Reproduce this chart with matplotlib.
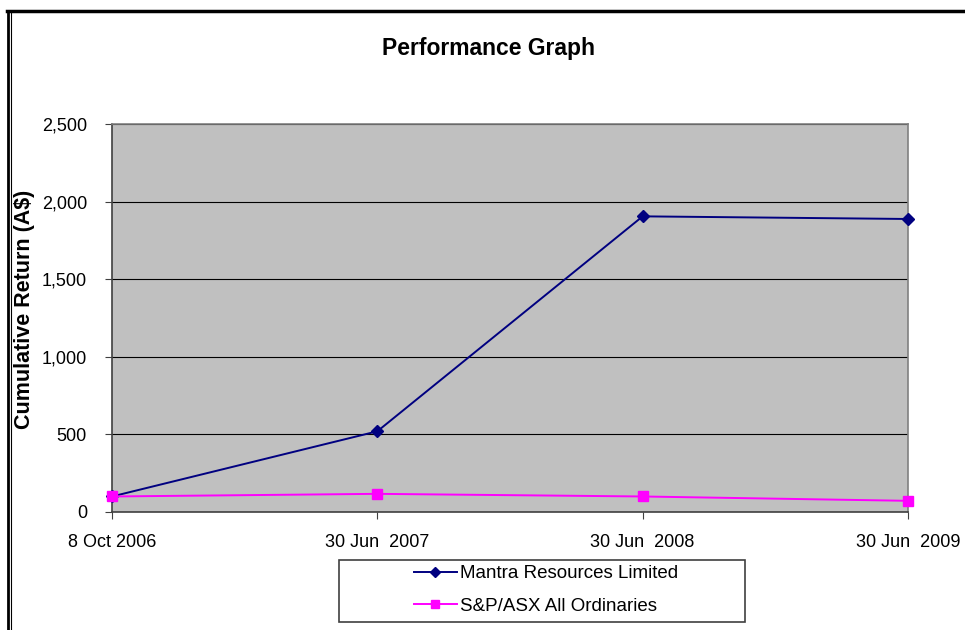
import matplotlib.pyplot as plt
from matplotlib.patches import Rectangle
from matplotlib.lines import Line2D

# datos
fechas = ['8 Oct 2006', '30 Jun  2007', '30 Jun  2008', '30 Jun  2009']
mantra = [100, 520, 1905, 1888]
asx = [100, 117, 100, 72]
y_ticks = [0, 500, 1000, 1500, 2000, 2500]
y_labels = ['0', '500', '1,000', '1,500', '2,000', '2,500']

plt.rcParams['font.family'] = ['Liberation Sans', 'DejaVu Sans']

fig = plt.figure(figsize=(9.65, 6.3), dpi=100)
ax = fig.add_axes([112 / 965, 1 - 512 / 630, 796 / 965, 388 / 630])
ax.set_facecolor('#c0c0c0')

x = range(len(fechas))
ax.plot(x, mantra, color='#000080', marker='D', markersize=6, lw=1.4,
        label='Mantra Resources Limited', zorder=3, clip_on=False)
ax.plot(x, asx, color='#ff00ff', marker='s', markersize=7.5, lw=1.4,
        label='S&P/ASX All Ordinaries', zorder=3, clip_on=False)

ax.set_xlim(0, len(fechas) - 1)
ax.set_ylim(0, 2500)
ax.set_xticks(list(x))
ax.set_xticklabels(fechas, fontsize=13)
ax.set_yticks(y_ticks)
ax.set_yticklabels(y_labels, fontsize=13)
ax.grid(axis='y', color='black', lw=0.8)
ax.set_axisbelow(True)
ax.tick_params(axis='both', direction='out', length=5, color='#404040')
ax.tick_params(axis='x', pad=11)
ax.tick_params(axis='y', pad=13)

for lado in ['left', 'bottom']:
    ax.spines[lado].set_color('#404040')
    ax.spines[lado].set_linewidth(1.2)
for lado in ['right', 'top']:
    ax.spines[lado].set_color('#808080')
    ax.spines[lado].set_linewidth(1.2)

fig.text(25 / 965, 1 - 309 / 630, 'Cumulative Return (A$)', fontsize=15.5,
         fontweight='bold', rotation=90, ha='center', va='center')
fig.text(489 / 965, 1 - 48 / 630, 'Performance Graph', fontsize=16.5,
         fontweight='bold', ha='center', va='center')

# caja de la leyenda
fig.patches.append(Rectangle((339 / 965, 1 - 622 / 630), 406 / 965, 62 / 630,
                             transform=fig.transFigure, fill=False,
                             edgecolor='#404040', lw=1.2))
leg = fig.legend(loc='center', bbox_to_anchor=(546 / 965, 1 - 590 / 630),
                 frameon=False, fontsize=13.5, handlelength=2.3, labelspacing=0.8,
                 handletextpad=0.2, borderpad=0, markerscale=0.8)

# borde de la figura (arriba e izquierda doble)
fig.add_artist(Line2D([7 / 965, 1], [1 - 11 / 630, 1 - 11 / 630],
                      transform=fig.transFigure, color='black', lw=2.5))
fig.add_artist(Line2D([8 / 965, 8 / 965], [0, 1 - 11 / 630],
                      transform=fig.transFigure, color='black', lw=2))
fig.add_artist(Line2D([11 / 965, 11 / 965], [0, 1 - 12 / 630],
                      transform=fig.transFigure, color='black', lw=0.8))

fig.savefig('out.png', dpi=100)
